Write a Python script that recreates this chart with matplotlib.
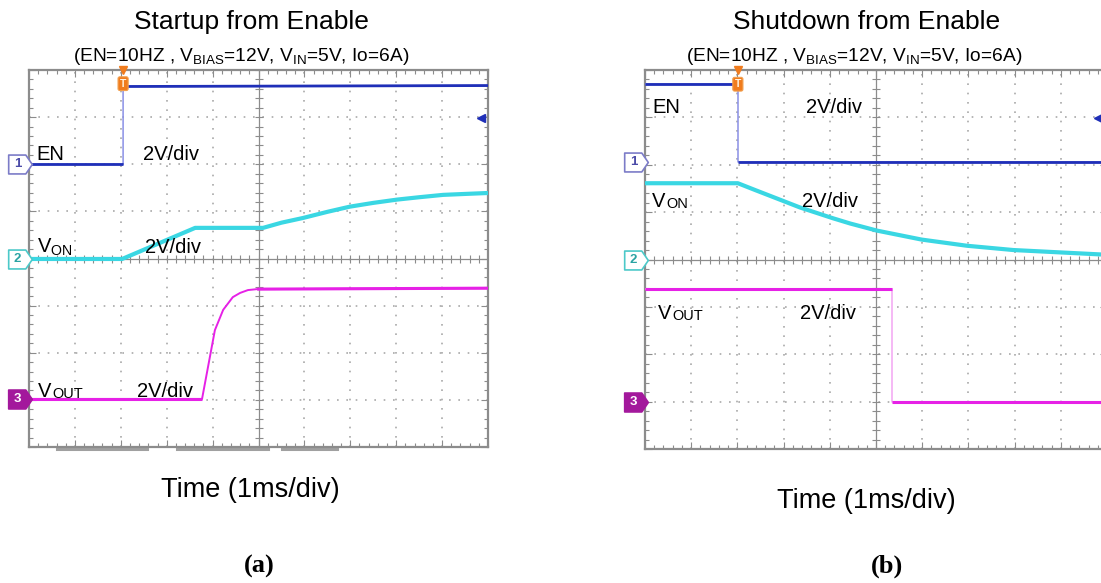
import numpy as np
import matplotlib
matplotlib.use("Agg")
import matplotlib.pyplot as plt
from matplotlib import transforms
from matplotlib.path import Path

plt.rcParams['font.family'] = ['Liberation Sans', 'DejaVu Sans']
plt.rcParams['mathtext.fontset'] = 'custom'
plt.rcParams['mathtext.rm'] = 'Liberation Sans'
plt.rcParams['mathtext.it'] = 'Liberation Sans'
plt.rcParams['mathtext.bf'] = 'Liberation Sans:bold'

# ---------------- data (divisions: time 0..10, amplitude 0..8) ----------------
# (a) Startup from Enable
start_en_t = [0, 2.05, 2.05, 10]
start_en_v = [6.0, 6.0, 7.65, 7.67]
start_von_t = [0, 2.03, 3.62, 5.10, 5.50, 5.97, 6.50, 6.99, 7.50, 8.02, 8.50, 9.02, 9.50, 10]
start_von_v = [3.99, 3.99, 4.65, 4.65, 4.76, 4.86, 4.99, 5.10, 5.18, 5.25, 5.30, 5.35, 5.37, 5.39]
start_vout_t = [0, 3.77, 4.05, 4.23, 4.44, 4.60, 4.77, 4.97, 10]
start_vout_v = [1.02, 1.02, 2.48, 2.91, 3.18, 3.27, 3.33, 3.35, 3.37]

# (b) Shutdown from Enable
shut_en_t = [0, 2.01, 2.01, 10]
shut_en_v = [7.70, 7.70, 6.05, 6.05]
shut_von_t = [0, 2.01, 2.40, 2.77, 3.35, 4.07, 4.44, 5.02, 5.99, 6.97, 7.97, 8.98, 10]
shut_von_v = [5.61, 5.61, 5.46, 5.32, 5.10, 4.87, 4.76, 4.61, 4.42, 4.29, 4.20, 4.15, 4.10]
shut_vout_t = [0, 5.35, 5.35, 10]
shut_vout_v = [3.38, 3.38, 0.99, 0.99]

titles = ["Startup from Enable", "Shutdown from Enable"]
subtitle = r"(EN=10HZ , V$_{\mathrm{BIAS}}$=12V, V$_{\mathrm{IN}}$=5V, Io=6A)"
xlabel = "Time (1ms/div)"
panel_labels = ["(a)", "(b)"]
scale_label = "2V/div"

EN_C = '#1f2fb8'
EN_EDGE = '#8a90e6'
VON_C = '#3ad7e3'
VOUT_C = '#e621e6'
VOUT_EDGE = '#f2a6f2'
GRID_C = '#a9a9a9'
FRAME_C = '#8c8c8c'

W, H = 1101, 583
fig = plt.figure(figsize=(W / 100, H / 100), dpi=100)

PENT = Path([(-1, -0.8), (0.45, -0.8), (1, 0), (0.45, 0.8), (-1, 0.8), (-1, -0.8)],
            [Path.MOVETO, Path.LINETO, Path.LINETO, Path.LINETO, Path.LINETO, Path.CLOSEPOLY])


def px_axes(x0, y0, x1, y1):
    return fig.add_axes([x0 / W, 1 - y1 / H, (x1 - x0) / W, (y1 - y0) / H])


def scope(ax):
    ax.set_xlim(0, 10)
    ax.set_ylim(0, 8)
    for s in ax.spines.values():
        s.set_color(FRAME_C)
        s.set_linewidth(1.6)
    ax.set_xticks(np.arange(0, 11, 1))
    ax.set_yticks(np.arange(0, 9, 1))
    ax.set_xticks(np.arange(0, 10.01, 0.2), minor=True)
    ax.set_yticks(np.arange(0, 8.01, 0.2), minor=True)
    ax.tick_params(which='both', direction='in', top=True, right=True,
                   labelbottom=False, labelleft=False, color=FRAME_C, width=0.8)
    ax.tick_params(which='major', length=5)
    ax.tick_params(which='minor', length=3)
    for x in range(1, 10):
        if x != 5:
            ax.axvline(x, color=GRID_C, lw=1.2, ls=(0, (1, 4.6)), zorder=1)
    for y in range(1, 8):
        if y != 4:
            ax.axhline(y, color=GRID_C, lw=1.2, ls=(0, (1, 4.6)), zorder=1)
    ax.axvline(5, color=FRAME_C, lw=0.9, zorder=1)
    ax.axhline(4, color=FRAME_C, lw=0.9, zorder=1)
    ax.plot(np.arange(0, 10.01, 0.2), np.full(51, 4.0), ls='none', marker='|',
            ms=6, mew=0.8, color=FRAME_C, zorder=1)
    ax.plot(np.full(41, 5.0), np.arange(0, 8.01, 0.2), ls='none', marker='_',
            ms=6, mew=0.8, color=FRAME_C, zorder=1)


def trace(ax, t, v, color, lw, edge_color):
    t = np.asarray(t, float)
    v = np.asarray(v, float)
    ax.plot(t, v, color=edge_color, lw=1.1, zorder=3, solid_joinstyle='round')
    cuts = np.where(np.diff(t) == 0)[0] + 1
    for seg_t, seg_v in zip(np.split(t, cuts), np.split(v, cuts)):
        ax.plot(seg_t, seg_v, color=color, lw=lw, zorder=4,
                solid_capstyle='butt', solid_joinstyle='round')


def channel_marker(ax, y, label, fc, ec, tc):
    tr = transforms.blended_transform_factory(ax.transAxes, ax.transData)
    w_px = ax.get_position().width * W
    ax.plot([-9.5 / w_px], [y], transform=tr, marker=PENT, ms=17, mfc=fc, mec=ec,
            mew=1.2, ls='none', clip_on=False, zorder=6)
    ax.text(-11.5 / w_px, y, label, transform=tr, ha='center', va='center',
            fontsize=9.5, fontweight='bold', color=tc, clip_on=False, zorder=7)


def smallcaps(ax, x, y, big, small, size):
    t = ax.text(x, y, big, fontsize=size, ha='left', va='baseline', zorder=7)
    ax.annotate(small, xy=(1, 0), xycoords=t, xytext=(0.5, 0), textcoords='offset points',
                fontsize=size * 0.72, ha='left', va='bottom', zorder=7)


def trigger(ax, x, y):
    ax.plot([x], [8.0], marker='v', ms=6, color='#f07c1e', clip_on=False, zorder=8)
    ax.text(x, y, 'T', fontsize=7.5, color='#fff3e0', ha='center', va='center', zorder=8,
            fontweight='bold',
            bbox=dict(boxstyle='round,pad=0.18', fc='#f07c1e', ec='#f2a050', lw=0.8))


LBL = 14.5

# ---------------- panel (a) ----------------
axa = px_axes(29, 70, 488, 447)
scope(axa)
trace(axa, start_en_t, start_en_v, EN_C, 2.0, EN_EDGE)
trace(axa, start_von_t, start_von_v, VON_C, 3.0, VON_C)
axa.plot(start_vout_t, start_vout_v, color=VOUT_C, lw=1.4, zorder=3)
axa.plot(start_vout_t[:2], start_vout_v[:2], color=VOUT_C, lw=2.2, zorder=4, solid_capstyle='butt')
axa.plot(start_vout_t[-2:], start_vout_v[-2:], color=VOUT_C, lw=2.2, zorder=4, solid_capstyle='butt')
axa.text(0.17, 6.10, "EN", fontsize=LBL, va='baseline', zorder=7)
axa.text(2.48, 6.10, scale_label, fontsize=LBL, va='baseline', zorder=7)
axa.text(0.17, 4.12, r"V$_{\mathrm{ON}}$", fontsize=LBL, va='baseline', zorder=7)
axa.text(2.53, 4.12, scale_label, fontsize=LBL, va='baseline', zorder=7)
smallcaps(axa, 0.2, 1.06, "V", "OUT", LBL)
axa.text(2.35, 1.06, scale_label, fontsize=LBL, va='baseline', zorder=7)
channel_marker(axa, 6.0, '1', 'white', '#7c7cc8', '#4b4ba8')
channel_marker(axa, 3.99, '2', 'white', '#4cc9c9', '#2aa3a3')
channel_marker(axa, 1.02, '3', '#a3189c', '#a3189c', 'white')
trigger(axa, 2.05, 7.71)
axa.plot([9.85], [6.99], marker='<', ms=6, color=EN_C, zorder=8)
for x0, x1 in [(0.61, 2.57), (3.22, 5.21), (5.51, 6.71)]:
    axa.plot([x0, x1], [-0.05, -0.05], color='#a0a0a0', lw=2.2, clip_on=False, zorder=0)

# ---------------- panel (b) ----------------
axb = px_axes(645, 70, 1107, 449)
scope(axb)
trace(axb, shut_en_t, shut_en_v, EN_C, 2.0, EN_EDGE)
trace(axb, shut_von_t, shut_von_v, VON_C, 3.0, VON_C)
trace(axb, shut_vout_t, shut_vout_v, VOUT_C, 2.2, VOUT_EDGE)
axb.text(0.17, 7.09, "EN", fontsize=LBL, va='baseline', zorder=7)
axb.text(3.48, 7.09, scale_label, fontsize=LBL, va='baseline', zorder=7)
smallcaps(axb, 0.15, 5.11, "V", "ON", LBL)
axb.text(3.40, 5.11, scale_label, fontsize=LBL, va='baseline', zorder=7)
smallcaps(axb, 0.28, 2.74, "V", "OUT", LBL)
axb.text(3.35, 2.74, scale_label, fontsize=LBL, va='baseline', zorder=7)
channel_marker(axb, 6.05, '1', 'white', '#7c7cc8', '#4b4ba8')
channel_marker(axb, 3.99, '2', 'white', '#4cc9c9', '#2aa3a3')
channel_marker(axb, 0.99, '3', '#a3189c', '#a3189c', 'white')
trigger(axb, 2.01, 7.70)
axb.plot([9.8], [6.98], marker='<', ms=6, color=EN_C, zorder=8, clip_on=False)

# ---------------- figure texts ----------------
fig.text(251 / W, 1 - 29 / H, titles[0], fontsize=19, ha='center', va='baseline')
fig.text(867 / W, 1 - 29 / H, titles[1], fontsize=19, ha='center', va='baseline')
fig.text(241 / W, 1 - 61 / H, subtitle, fontsize=13.8, ha='center', va='baseline')
fig.text(854 / W, 1 - 61 / H, subtitle, fontsize=13.8, ha='center', va='baseline')
fig.text(250 / W, 1 - 497 / H, xlabel, fontsize=19.5, ha='center', va='baseline')
fig.text(866 / W, 1 - 508 / H, xlabel, fontsize=19.5, ha='center', va='baseline')
fig.text(259 / W, 1 - 573 / H, panel_labels[0], fontsize=19, ha='center', va='baseline',
         family='Liberation Serif', fontweight='bold')
fig.text(887 / W, 1 - 573 / H, panel_labels[1], fontsize=19, ha='center', va='baseline',
         family='Liberation Serif', fontweight='bold')

fig.savefig("out.png", dpi=100)
